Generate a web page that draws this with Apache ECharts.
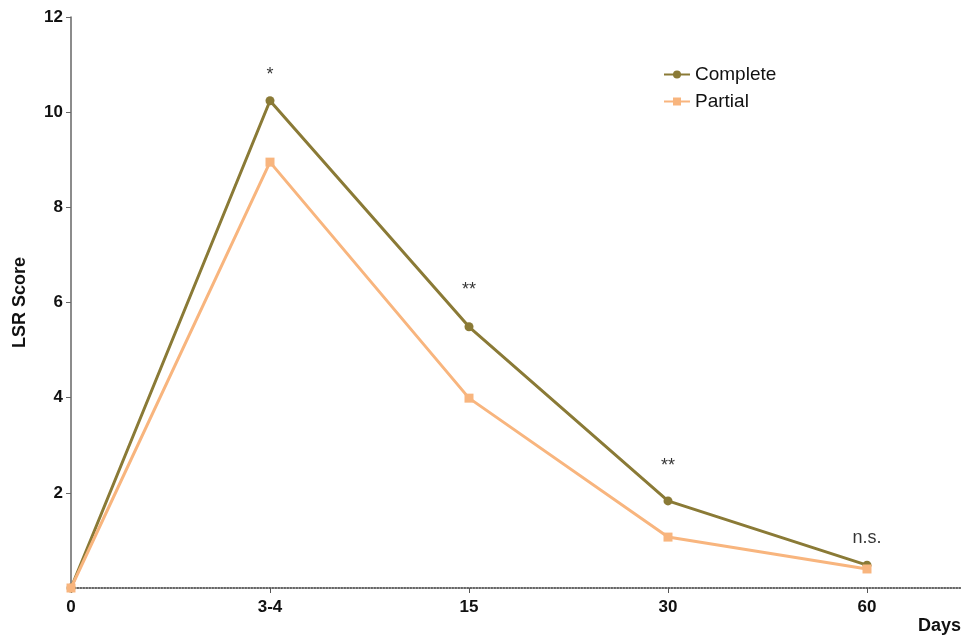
<!DOCTYPE html>
<html><head><meta charset="utf-8">
<script src="https://cdn.jsdelivr.net/npm/echarts@6/dist/echarts.min.js"></script>
<style>html,body{margin:0;padding:0;background:#fff}#c{width:961px;height:640px}</style>
</head><body><div id="c"></div>
<script>
var categories = ["0", "3-4", "15", "30", "60"];
var complete = [0, 10.24, 5.49, 1.83, 0.48];
var partial = [0, 8.95, 3.99, 1.07, 0.40];
var sigLabels = ["", "*", "**", "**", "n.s."];
var sigY = [0, 10.78, 6.26, 2.56, 1.05];
var yTicks = [2, 4, 6, 8, 10, 12];

var idx = categories.map(function(_, i){ return i; });
var chart = echarts.init(document.getElementById('c'));
var font = 'Liberation Sans, Arial, sans-serif';
chart.setOption({
  animation: false,
  grid: {left: 71, right: 0, top: 17, bottom: 52, containLabel: false, outerBoundsMode: 'none'},
  legend: {
    data: ['Complete', 'Partial'], orient: 'vertical', left: 658, top: 60,
    itemWidth: 26, itemHeight: 10, itemGap: 8,
    textStyle: {fontFamily: font, fontSize: 19, color: '#111'}
  },
  xAxis: {
    type: 'value', min: 0, max: 890/199,
    axisLine: {show: true, onZero: false, lineStyle: {color: '#333', type: 'dotted', width: 1.5}},
    axisTick: {show: true, customValues: idx, length: 5, lineStyle: {color: '#555'}},
    axisLabel: {customValues: idx, formatter: function(v){ return categories[Math.round(v)]; },
      fontFamily: font, fontWeight: 'bold', fontSize: 17, color: '#111', margin: 11},
    splitLine: {show: false},
    name: 'Days', nameLocation: 'end', nameGap: 0,
    nameTextStyle: {fontFamily: font, fontWeight: 'bold', fontSize: 18, color: '#111',
      align: 'right', verticalAlign: 'top', padding: [29, 0, 0, 0]}
  },
  yAxis: {
    type: 'value', min: 0, max: 12, interval: 2,
    axisLine: {show: true, lineStyle: {color: '#666', width: 1.5}},
    axisTick: {show: true, customValues: yTicks, length: 5, lineStyle: {color: '#666'}},
    axisLabel: {customValues: yTicks, fontFamily: font, fontWeight: 'bold', fontSize: 17, color: '#111', margin: 8},
    splitLine: {show: false},
    name: 'LSR Score', nameLocation: 'middle', nameGap: 42, nameRotate: 90,
    nameTextStyle: {fontFamily: font, fontWeight: 'bold', fontSize: 18, color: '#111'}
  },
  series: [
    {name: 'Complete', type: 'line', data: idx.map(function(i){ return [i, complete[i]]; }),
      symbol: 'circle', symbolSize: 9, lineStyle: {width: 3, color: '#8a7a36'},
      itemStyle: {color: '#8a7a36'}, z: 2},
    {name: 'Partial', type: 'line', data: idx.map(function(i){ return [i, partial[i]]; }),
      symbol: 'rect', symbolSize: 9, lineStyle: {width: 3, color: '#f8b57e'},
      itemStyle: {color: '#f8b57e'}, z: 3},
    {name: 'sig', type: 'scatter', symbolSize: 0, silent: true,
      data: idx.filter(function(i){ return sigLabels[i]; }).map(function(i){ return {value: [i, sigY[i]], lab: sigLabels[i]}; }),
      label: {show: true, position: 'inside', fontFamily: font, fontSize: 18, color: '#000',
        formatter: function(p){ return p.data.lab; }}}
  ]
});
</script></body></html>
